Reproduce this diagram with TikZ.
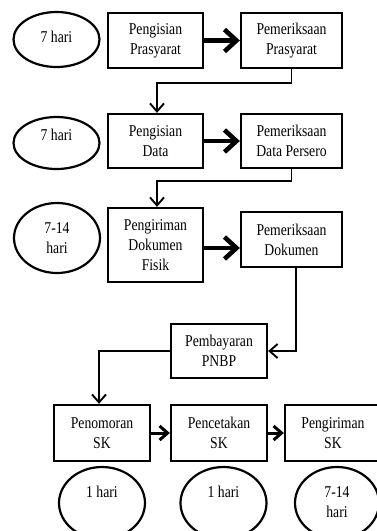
\documentclass[tikz,border=0pt]{standalone}
\usepackage{fontspec}
\setmainfont{Liberation Serif}[FakeStretch=0.83]
\usetikzlibrary{shapes.geometric,arrows.meta}
\begin{document}
\begin{tikzpicture}[x=1pt,y=-1pt,
  every node/.style={font=\fontsize{16.5}{20}\selectfont, align=center, inner sep=0pt},
  stepbox/.style={draw, line width=2.3pt, rectangle, minimum height=#1},
  stepbox/.default=55pt,
  oval/.style={draw, line width=2.2pt, ellipse, minimum width=86pt, minimum height=#1},
  lbl/.style={},
  thinarrow/.style={line width=1.9pt, -{Straight Barb[length=8pt,width=14pt]}},
  thickarrow/.style={line width=4.6pt, -{Straight Barb[length=12pt,width=22pt]}},
  midarrow/.style={line width=3pt, -{Straight Barb[length=8pt,width=14pt]}}
]
\useasboundingbox (0,0) rectangle (377,531);
\clip (0,0) rectangle (377,531);
% ovals
\node[oval=55pt] (e1) at (56.5,39.5) {};
\node[lbl] (t1) at (56.5,37) {7 hari};
\node[oval=52pt] (e2) at (56.5,143) {};
\node[lbl] (t2) at (56.5,135) {7 hari};
\node[oval=70pt] (e3) at (57,238) {};
\node[lbl] (t3) at (57,238) {7-14\\hari};
\node[oval=72pt] (e4) at (102,503) {};
\node[lbl] (t4) at (102,492) {1 hari};
\node[oval=72pt] (e5) at (223.5,503) {};
\node[lbl] (t5) at (223.5,492) {1 hari};
\node[oval=72pt, minimum width=84pt] (e6) at (337,503) {};
\node[lbl] (t6) at (337,502) {7-14\\hari};
% boxes
\node[stepbox=55pt, minimum width=95pt] (b1) at (155.5,40.5) {Pengisian\\Prasyarat};
\node[stepbox=55pt, minimum width=101pt] (b2) at (291.5,40.5) {Pemeriksaan\\Prasyarat};
\node[stepbox=54pt, minimum width=95pt] (b3) at (155.5,141) {Pengisian\\Data};
\node[stepbox=54pt, minimum width=101pt] (b4) at (291.5,141) {Pemeriksaan\\Data Persero};
\node[stepbox=74pt, minimum width=95pt] (b5) at (155.5,245) {Pengiriman\\Dokumen\\Fisik};
\node[stepbox=55pt, minimum width=101pt] (b6) at (291.5,239.5) {Pemeriksaan\\Dokumen};
\node[stepbox=54pt, minimum width=96pt] (b7) at (219,351) {Pembayaran\\PNBP};
\node[stepbox=56pt, minimum width=96pt] (b8) at (102,433) {Penomoran\\SK};
\node[stepbox=56pt, minimum width=96pt] (b9) at (219,433) {Pencetakan\\SK};
\node[stepbox=56pt, minimum width=96pt] (b10) at (333,433) {Pengiriman\\SK};
% connectors
\draw[thickarrow] (b1.east) -- (b2.west);
\draw[thickarrow] (b3.east) -- (b4.west);
\draw[thickarrow] ([yshift=-3pt]b5.east) -- ([yshift=-3pt]b5.east -| b6.west);
\draw[thinarrow] (b2.south) -- ++(0,14) -| ([xshift=1.5pt]b3.north);
\draw[thinarrow] (b4.south) -- ++(0,12) -| ([xshift=1.5pt]b5.north);
\draw[thinarrow] ([xshift=4.5pt]b6.south) |- (b7.east);
\draw[thinarrow] (b7.west) -| ([xshift=-3pt]b8.north);
\draw[midarrow] (b8.east) -- (b9.west);
\draw[midarrow] (b9.east) -- (b10.west);
\end{tikzpicture}
\end{document}
